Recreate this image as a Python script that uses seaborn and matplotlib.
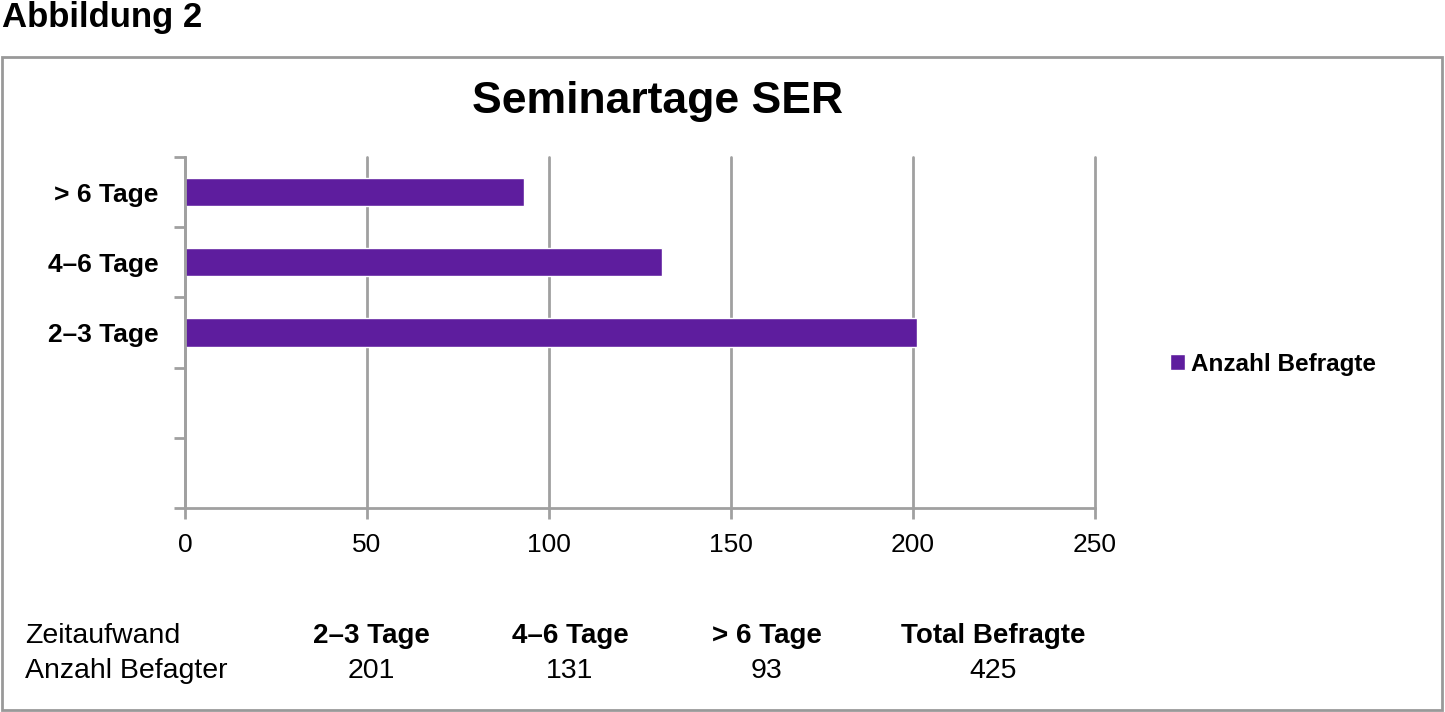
import matplotlib
matplotlib.use("Agg")
import matplotlib.pyplot as plt
from matplotlib.patches import Rectangle
from matplotlib.ticker import MultipleLocator, FixedLocator
import pandas as pd
import seaborn as sns

# Daten
kategorien = ["> 6 Tage", "4\u20136 Tage", "2\u20133 Tage"]
anzahl = [93, 131, 201]
leere_slots = ["", " "]
tabelle_kopf = ["2\u20133 Tage", "4\u20136 Tage", "> 6 Tage", "Total Befragte"]
tabelle_werte = ["201", "131", "93", "425"]
x_ticks = [0, 50, 100, 150, 200, 250]

sns.set_style("white")
plt.rcParams["font.family"] = ["Liberation Sans", "DejaVu Sans"]
plt.rcParams["text.color"] = "black"
plt.rcParams["xtick.color"] = "black"
plt.rcParams["ytick.color"] = "black"

PURPLE = "#5e1d9e"
GRAY = "#a0a0a0"

df = pd.DataFrame({"Zeit": kategorien, "Anzahl": anzahl})

fig = plt.figure(figsize=(14.45, 7.12), dpi=100)
ax = fig.add_axes([185 / 1445, 1 - 508 / 712, 910 / 1445, 351 / 712])

sns.barplot(data=df, x="Anzahl", y="Zeit", order=kategorien + leere_slots,
            color=PURPLE, saturation=1, width=0.4, orient="h",
            label="Anzahl Befragte", ax=ax)

ax.set_xlim(0, 250)
ax.set_ylim(4.5, -0.5)
ax.set_xlabel("")
ax.set_ylabel("")
ax.xaxis.set_major_locator(FixedLocator(x_ticks))
ax.set_xticklabels([str(t) for t in x_ticks], fontsize=19)
ax.set_yticks(range(len(kategorien)))
ax.set_yticklabels(kategorien, fontsize=19, fontweight="bold")
ax.yaxis.set_minor_locator(MultipleLocator(1, offset=0.5))
ax.tick_params(axis="y", which="major", left=True, length=0, pad=19)
ax.tick_params(axis="y", which="minor", left=True, length=8, width=2,
               color=GRAY, direction="out")
ax.tick_params(axis="x", which="major", bottom=True, length=8, width=2,
               color=GRAY, direction="out", pad=10)
ax.grid(axis="x", color=GRAY, linewidth=2)
for gl in ax.get_xgridlines():
    gl.set_clip_on(False)
ax.set_axisbelow(True)
for s in ["top", "right"]:
    ax.spines[s].set_visible(False)
for s in ["left", "bottom"]:
    ax.spines[s].set_color(GRAY)
    ax.spines[s].set_linewidth(2)

leg = ax.legend(loc="center left", bbox_to_anchor=(1158 / 1445, 1 - 364 / 712),
                bbox_transform=fig.transFigure, frameon=False, borderpad=0,
                handlelength=0.6, handleheight=0.6, handletextpad=0.25,
                prop={"size": 17.5, "weight": "bold"})

# Rahmen
fig.patches.append(Rectangle((2 / 1445, 2 / 712), 1440 / 1445, 653 / 712,
                             transform=fig.transFigure, fill=False,
                             edgecolor="#999999", linewidth=2))

fig.text(2 / 1445, 1 - 18 / 712, "Abbildung 2", fontsize=25, fontweight="bold",
         ha="left", va="center")
fig.text(658 / 1445, 1 - 101 / 712, "Seminartage SER", fontsize=32,
         fontweight="bold", ha="center", va="center")

# Tabelle unten
fig.text(25 / 1445, 1 - 636 / 712, "Zeitaufwand", fontsize=20.5, ha="left", va="center")
fig.text(25 / 1445, 1 - 671 / 712, "Anzahl Befagter", fontsize=20.5, ha="left", va="center")
spalten_x = [371, 570, 767, 993]
for xp, kopf, wert in zip(spalten_x, tabelle_kopf, tabelle_werte):
    fig.text(xp / 1445, 1 - 636 / 712, kopf, fontsize=20, fontweight="bold",
             ha="center", va="center")
    fig.text(xp / 1445, 1 - 671 / 712, wert, fontsize=20.5, ha="center", va="center")

fig.savefig("out.png", dpi=100)
